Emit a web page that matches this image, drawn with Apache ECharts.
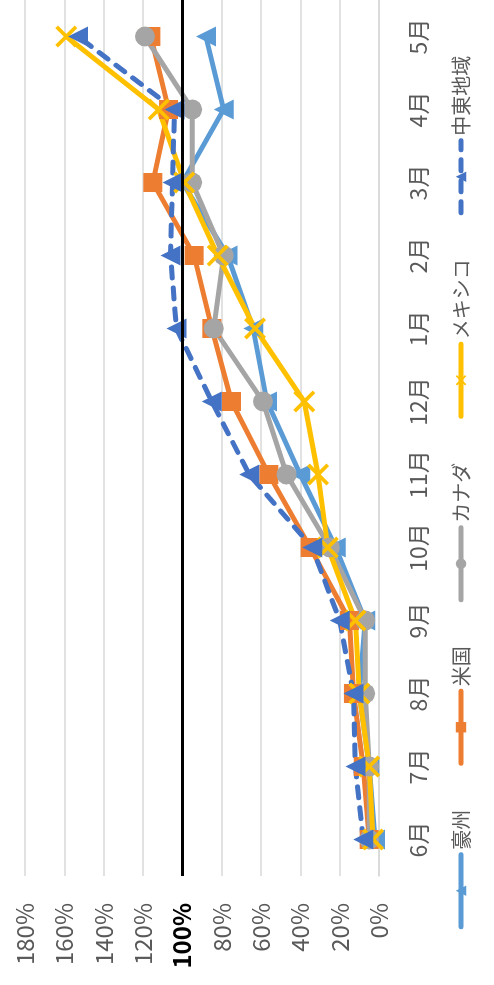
<!DOCTYPE html>
<html>
<head>
<meta charset="utf-8">
<script src="https://cdn.jsdelivr.net/npm/echarts@6/dist/echarts.min.js"></script>
<style>
  html, body { margin: 0; padding: 0; background: #fff; overflow: hidden; }
  #wrap { width: 494px; height: 985px; position: relative; overflow: hidden; }
  /* the chart is laid out landscape, then turned a quarter to the left */
  #chart {
    position: absolute; left: 0; top: 0;
    width: 985px; height: 494px;
    transform-origin: 0 0;
    transform: translate(0, 985px) rotate(-90deg);
  }
</style>
</head>
<body>
<div id="wrap"><div id="chart"></div></div>
<script>
  // 月（カテゴリ）
  var months = ['6月', '7月', '8月', '9月', '10月', '11月', '12月', '1月', '2月', '3月', '4月', '5月'];
  // 各地域の値（％）
  var gouShu  = [2, 5, 10, 7, 22, 40, 57, 64, 77, 100, 79, 88];
  var beiKoku = [5, 8, 13, 15, 35, 56, 75, 85, 94, 115, 107, 116];
  var canada  = [5, 5, 7, 7, 25, 47, 59, 84, 79, 95, 95, 119];
  var mexico  = [3, 5, 10, 12, 26, 31, 38, 63, 82, 99, 112, 159];
  var chuTo   = [8, 12, 13, 20, 34, 66, 85, 103, 106, 105, 104, 153];
  var seriesNames = ['豪州', '米国', 'カナダ', 'メキシコ', '中東地域'];
  var yTicks = { min: 0, max: 180, interval: 20 };

  var font = "'Noto Sans CJK JP', 'Noto Sans', sans-serif";
  var crossMark = 'path://M0,1.2L1.2,0L5,3.8L8.8,0L10,1.2L6.2,5L10,8.8L8.8,10L5,6.2L1.2,10L0,8.8L3.8,5Z';

  function makeLine(name, data, color, symbol, size, dashed) {
    return {
      name: name,
      type: 'line',
      data: data,
      symbol: symbol,
      symbolSize: size,
      showSymbol: true,
      lineStyle: {
        color: color,
        width: 5,
        type: dashed ? [11, 10] : 'solid',
        cap: dashed ? 'round' : 'butt'
      },
      itemStyle: { color: color, borderColor: color, borderWidth: 0 },
      emphasis: { disabled: true },
      animation: false
    };
  }

  var series = [
    makeLine(seriesNames[0], gouShu, '#5B9BD5', 'triangle', 20, false),
    makeLine(seriesNames[1], beiKoku, '#ED7D31', 'rect', 19, false),
    makeLine(seriesNames[2], canada, '#A5A5A5', 'circle', 20, false),
    makeLine(seriesNames[3], mexico, '#FFC000', crossMark, 22, false),
    makeLine(seriesNames[4], chuTo, '#4472C4', 'triangle', 20, true)
  ];
  // 100% の基準線
  series[0].markLine = {
    silent: true,
    symbol: ['none', 'none'],
    label: { show: false },
    lineStyle: { color: '#000', width: 3, type: 'solid' },
    data: [{ yAxis: 100 }],
    animation: false
  };

  var option = {
    backgroundColor: '#fff',
    animation: false,
    textStyle: { fontFamily: font },
    grid: { left: 109, right: 0, top: 25, height: 354 },
    legend: {
      data: seriesNames,
      left: 'center',
      top: 446,
      itemWidth: 72,
      itemHeight: 13,
      itemGap: 44,
      lineStyle: { width: 5, cap: 'round' },
      textStyle: { fontFamily: font, fontSize: 20, color: '#595959' }
    },
    xAxis: {
      type: 'category',
      data: months,
      boundaryGap: true,
      axisLine: { show: true, lineStyle: { color: '#D9D9D9', width: 1.5 } },
      axisTick: { show: false },
      axisLabel: { interval: 0, margin: 28, fontSize: 23, color: '#595959', fontFamily: font }
    },
    yAxis: {
      type: 'value',
      min: yTicks.min,
      max: yTicks.max,
      interval: yTicks.interval,
      axisLine: { show: false },
      axisTick: { show: false },
      splitLine: { lineStyle: { color: '#D9D9D9', width: 1.5 } },
      axisLabel: {
        margin: 27,
        fontSize: 24,
        color: '#595959',
        fontFamily: font,
        formatter: function (v) {
          return v === 100 ? '{b|' + v + '%}' : v + '%';
        },
        rich: {
          b: { fontSize: 24, fontWeight: 'bold', color: '#000', fontFamily: font }
        }
      }
    },
    series: series
  };

  var myChart = echarts.init(document.getElementById('chart'));
  myChart.setOption(option);
</script>
</body>
</html>
